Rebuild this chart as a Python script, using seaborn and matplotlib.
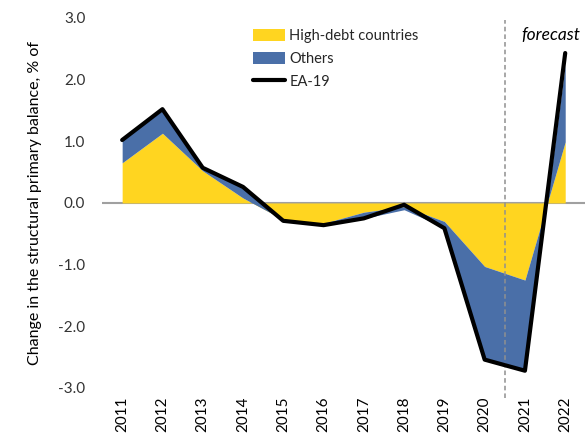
import matplotlib
matplotlib.use("Agg")
import matplotlib.pyplot as plt
import seaborn as sns
import numpy as np
import pandas as pd

years = [2011, 2012, 2013, 2014, 2015, 2016, 2017, 2018, 2019, 2020, 2021, 2022]
high_debt = [0.65, 1.13, 0.52, 0.08, -0.27, -0.33, -0.15, -0.06, -0.30, -1.03, -1.25, 0.99]
others = [0.37, 0.37, 0.05, 0.18, -0.02, -0.03, -0.10, -0.05, -0.10, -1.51, -1.47, 1.25]
ea19 = [1.02, 1.52, 0.57, 0.26, -0.29, -0.36, -0.25, -0.03, -0.41, -2.54, -2.72, 2.43]
yticks = [3.0, 2.0, 1.0, 0.0, -1.0, -2.0, -3.0]

sns.set_style("white")
plt.rcParams["font.family"] = ["Lato", "DejaVu Sans"]

YELLOW = "#FFD520"
BLUE = "#4A6FA8"

fig = plt.figure(figsize=(5.88, 4.47), dpi=100)
ax = fig.add_axes([0.1735, 0.132, 0.822, 0.828])

x = np.array(years, dtype=float)
hd = np.array(high_debt)
ot = np.array(others)
ax.axhline(0, color="#A0A0A0", lw=1.5, zorder=1)
ax.fill_between(x, 0, hd, color=YELLOW, lw=0, zorder=2, label="High-debt countries")
ax.fill_between(x, hd, hd + ot, color=BLUE, lw=0, zorder=2, label="Others")

df = pd.DataFrame({"year": x, "EA-19": ea19})
sns.lineplot(data=df, x="year", y="EA-19", color="black", lw=3.0, ax=ax,
             label="EA-19", zorder=4)

ax.axvline(2020.5, ymin=-0.027, ymax=0.995, color="#909090", ls=(0, (3, 2)),
           lw=1.1, clip_on=False, zorder=3)
ax.text(2021.65, 2.72, "forecast", style="italic", fontsize=12.5, ha="center",
        va="center", color="black")

ax.set_xlim(2010.5, 2022.5)
ax.set_ylim(-3, 3)
ax.set_yticks(yticks)
ax.set_yticklabels([f"{v:.1f}" for v in yticks], fontsize=11, color="#333333")
ax.set_xticks(years)
ax.set_xticklabels([str(y) for y in years], rotation=90, fontsize=11, color="black")
ax.tick_params(axis="y", length=0, pad=12)
ax.tick_params(axis="x", length=0, pad=6)
ax.set_xlabel("")
ax.set_ylabel("Change in the structural primary balance, % of", fontsize=11.5,
              color="black", labelpad=12)
for s in ax.spines.values():
    s.set_visible(False)

leg = ax.legend(loc="upper left", bbox_to_anchor=(0.30, 0.985), frameon=False,
                fontsize=10.5, handlelength=2.2, handleheight=0.9,
                labelspacing=0.6, handletextpad=0.3, borderaxespad=0)

fig.savefig("out.png", dpi=100)
